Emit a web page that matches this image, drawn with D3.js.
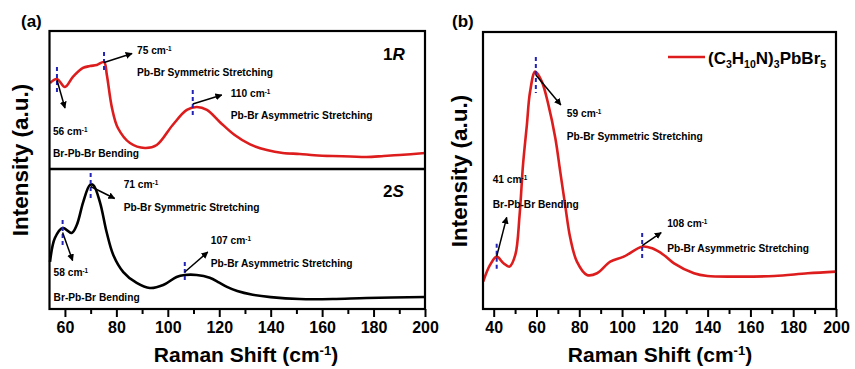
<!DOCTYPE html>
<html>
<head>
<meta charset="utf-8">
<script src="https://cdn.jsdelivr.net/npm/d3@7"></script>
<style>
  body { margin: 0; background: #fff; }
  svg text { font-family: 'Liberation Sans', Arial, sans-serif; font-weight: bold; }
</style>
</head>
<body>
<div id="chart"></div>
<script>
// Raman spectra (x in cm-1, intensity in arbitrary units 0-100)
const shift1R = [54.2, 56.9, 60.0, 63.1, 67.0, 69.7, 72.4, 75.2, 76.3, 78.3, 80.6, 85.3, 91.1, 95.7, 101.9, 107.4, 111.3, 115.2, 120.2, 126.0, 132, 138.5, 144.7, 151.3, 157, 164.1, 171, 177.3, 184, 190.1, 200]
const int1R = [62.3, 65.2, 59.4, 66.7, 73.2, 74.6, 75.4, 77.5, 68.1, 44.2, 29.7, 18.8, 15.2, 17.4, 31.9, 42.8, 44.9, 42.8, 34.1, 24.6, 17.8, 13.8, 11.6, 10.9, 10.0, 9.4, 9.1, 8.7, 9.4, 10.1, 11.6]

const shift2S = [54.2, 56.1, 59.1, 62.6, 64.6, 67.1, 69.7, 71.0, 73.6, 76.2, 78.8, 82.7, 87.9, 93.0, 98.2, 103.4, 106.6, 111.2, 116.3, 120, 123, 127, 133, 140, 151.3, 164.1, 177.3, 200]
const int2S = [33.6, 50.7, 57.9, 54.3, 60.0, 76.4, 88.6, 88.6, 76.4, 55.0, 38.6, 26.4, 18.6, 15.0, 17.1, 22.9, 24.3, 24.3, 22.3, 18.8, 15.8, 12.8, 10.2, 8.5, 7.1, 7.1, 7.9, 8.6]

const shiftB = [35.1, 38.3, 41.4, 44.6, 47.4, 50.1, 52.1, 53.7, 55.5, 57.0, 59.4, 62.5, 65.6, 68.8, 71.1, 73.4, 75.8, 78.9, 83.6, 88.3, 94.5, 100.8, 109.4, 114.1, 119.5, 124.3, 133.6, 139.9, 155.5, 171.1, 186.8, 200]
const intB = [9.9, 15.9, 18.9, 16.5, 15.3, 19.5, 33.9, 52.0, 66.4, 78.4, 85.7, 82.1, 73.6, 61.7, 49.6, 37.5, 25.6, 17.1, 12.3, 12.9, 17.1, 18.9, 22.5, 21.9, 19.5, 16.5, 12.9, 11.9, 11.7, 11.9, 12.9, 13.5]

// peak annotations: marker position (cm-1, intensity), label and assignment
const peakShift1R = [56.9, 75.2, 109.7]
const peakInt1R = [64.5, 77.2, 47.1]
const peakLabel1R = ['56', '75', '110']
const peakMode1R = ['Br-Pb-Br Bending', 'Pb-Br Symmetric Stretching', 'Pb-Br Asymmetric Stretching']

const peakShift2S = [59.1, 70.0, 106.6]
const peakInt2S = [54.6, 87.5, 26.4]
const peakLabel2S = ['58', '71', '107']
const peakMode2S = ['Br-Pb-Br Bending', 'Pb-Br Symmetric Stretching', 'Pb-Br Asymmetric Stretching']

const peakShiftB = [41.4, 59.7, 109.4]
const peakIntB = [19.0, 84.5, 22.9]
const peakLabelB = ['41', '59', '108']
const peakModeB = ['Br-Pb-Br Bending', 'Pb-Br Symmetric Stretching', 'Pb-Br Asymmetric Stretching']

const ticksA = [60, 80, 100, 120, 140, 160, 180, 200]
const minorA = [70, 90, 110, 130, 150, 170, 190]
const ticksB = [40, 60, 80, 100, 120, 140, 160, 180, 200]
const minorB = [50, 70, 90, 110, 130, 150, 170, 190]

// layout of the annotation pieces, in px relative to marker centre
// [marker half length, arrow dx, arrow dy, label dx, label dy, mode dy]
const layout1R = [[13, 8, 28, -4, 55, 77], [10.5, 28, -9, 33, -8.5, 13.5], [14, 29, -9, 38, -7, 15]]
const layout2S = [[12.5, 10, 28, -9, 43.5, 68.5], [13.5, 24, 12, 33, 1.5, 24.5], [10, 23, -20, 26, -28, -5]]
const layoutB = [[12.5, 10, -39, -4, -73.5, -48.5], [18, 25, 30, 31, 42, 65], [12.5, 19, -13, 25, -18.5, 6.5]]

const RED = '#dd1d1d'
const BLUE = '#2323b8'

const svg = d3.select('#chart').append('svg')
  .attr('width', 855)
  .attr('height', 369)

svg.append('defs').append('marker')
  .attr('id', 'arrow')
  .attr('viewBox', '0 0 10 10')
  .attr('refX', 9)
  .attr('refY', 5)
  .attr('markerWidth', 7)
  .attr('markerHeight', 7)
  .attr('markerUnits', 'userSpaceOnUse')
  .attr('orient', 'auto')
  .append('path')
  .attr('d', 'M0,0 L10,5 L0,10 Z')
  .attr('fill', '#000')

// Scales
const xA = d3.scaleLinear().domain([54, 200]).range([49.5, 425])
const yTop = d3.scaleLinear().domain([0, 100]).range([169, 31])
const yBot = d3.scaleLinear().domain([0, 100]).range([309, 169])
const xB = d3.scaleLinear().domain([35, 200]).range([483, 836])
const yB = d3.scaleLinear().domain([0, 100]).range([309, 32])

/**
 * Writes "NN cm-1" with a superscript into a text selection
 */
function cmText (sel, value) {
  sel.append('tspan').text(value + ' cm')
  sel.append('tspan').attr('dy', '-0.45em').attr('font-size', '0.62em').text('-1')
}

function drawSpectrum (xs, ys, xScale, yScale, color) {
  const pts = xs.map((d, i) => [d, ys[i]])
  svg.append('path')
    .datum(pts)
    .attr('d', d3.line()
      .x(d => xScale(d[0]))
      .y(d => yScale(d[1]))
      .curve(d3.curveCatmullRom.alpha(0.5)))
    .attr('fill', 'none')
    .attr('stroke', color)
    .attr('stroke-width', 2.6)
    .attr('stroke-linejoin', 'round')
}

function drawPeaks (shifts, ints, labels, modes, lay, xScale, yScale) {
  shifts.forEach((s, i) => {
    const cx = xScale(s)
    const cy = yScale(ints[i])
    const [h, adx, ady, ldx, ldy, mdy] = lay[i]
    svg.append('line')
      .attr('x1', cx).attr('x2', cx)
      .attr('y1', cy - h).attr('y2', cy + h)
      .attr('stroke', BLUE)
      .attr('stroke-width', 2)
      .attr('stroke-dasharray', '4,3')
    svg.append('line')
      .attr('x1', cx).attr('y1', cy)
      .attr('x2', cx + adx).attr('y2', cy + ady)
      .attr('stroke', '#000')
      .attr('stroke-width', 1.5)
      .attr('marker-end', 'url(#arrow)')
    const t = svg.append('text')
      .attr('x', cx + ldx).attr('y', cy + ldy)
      .attr('font-size', 10.2)
    cmText(t, labels[i])
    svg.append('text')
      .attr('x', cx + ldx).attr('y', cy + mdy)
      .attr('font-size', 10.2)
      .text(modes[i])
  })
}

function drawAxis (xScale, major, minor, y) {
  svg.append('g')
    .attr('transform', `translate(0,${y})`)
    .call(d3.axisBottom(xScale).tickValues(major).tickSize(8).tickPadding(5))
    .call(g => g.select('.domain').remove())
    .call(g => g.selectAll('line').attr('stroke-width', 2))
    .call(g => g.selectAll('text').attr('font-size', 16).attr('fill', '#000')
      .attr('font-family', "'Liberation Sans', Arial, sans-serif").attr('font-weight', 'bold'))
  svg.append('g')
    .attr('transform', `translate(0,${y})`)
    .call(d3.axisBottom(xScale).tickValues(minor).tickSize(5).tickFormat(''))
    .call(g => g.select('.domain').remove())
    .call(g => g.selectAll('line').attr('stroke-width', 2))
}

function xTitle (x) {
  const t = svg.append('text')
    .attr('x', x).attr('y', 362)
    .attr('text-anchor', 'middle')
    .attr('font-size', 21)
  t.append('tspan').text('Raman Shift (cm')
  t.append('tspan').attr('dy', '-0.5em').attr('font-size', '0.62em').text('-1')
  t.append('tspan').attr('dy', '0.3em').text(')')
}

function yTitle (x, y) {
  svg.append('text')
    .attr('transform', `translate(${x},${y}) rotate(-90)`)
    .attr('text-anchor', 'middle')
    .attr('font-size', 22.5)
    .text('Intensity (a.u.)')
}

// ---- Panel (a)
drawSpectrum(shift1R, int1R, xA, yTop, RED)
drawSpectrum(shift2S, int2S, xA, yBot, '#000')
drawPeaks(peakShift1R, peakInt1R, peakLabel1R, peakMode1R, layout1R, xA, yTop)
drawPeaks(peakShift2S, peakInt2S, peakLabel2S, peakMode2S, layout2S, xA, yBot)
drawAxis(xA, ticksA, minorA, 309)

svg.append('rect')
  .attr('x', xA.range()[0]).attr('y', yTop.range()[1])
  .attr('width', xA.range()[1] - xA.range()[0])
  .attr('height', yBot.range()[0] - yTop.range()[1])
  .attr('fill', 'none').attr('stroke', '#000').attr('stroke-width', 2.2)
svg.append('line')
  .attr('x1', xA.range()[0]).attr('x2', xA.range()[1])
  .attr('y1', yTop.range()[0]).attr('y2', yTop.range()[0])
  .attr('stroke', '#000').attr('stroke-width', 2.5)

// sample labels 1R / 2S
const s1 = svg.append('text').attr('x', 383).attr('y', 60).attr('font-size', 17)
s1.append('tspan').text('1')
s1.append('tspan').attr('font-style', 'italic').text('R')
const s2 = svg.append('text').attr('x', 383).attr('y', 197).attr('font-size', 17)
s2.append('tspan').text('2')
s2.append('tspan').attr('font-style', 'italic').text('S')

xTitle(246)
yTitle(28, 160)
svg.append('text').attr('x', 21).attr('y', 27).attr('font-size', 17).text('(a)')

// ---- Panel (b)
drawSpectrum(shiftB, intB, xB, yB, RED)
drawPeaks(peakShiftB, peakIntB, peakLabelB, peakModeB, layoutB, xB, yB)
drawAxis(xB, ticksB, minorB, 309)
svg.append('rect')
  .attr('x', xB.range()[0]).attr('y', yB.range()[1])
  .attr('width', xB.range()[1] - xB.range()[0])
  .attr('height', yB.range()[0] - yB.range()[1])
  .attr('fill', 'none').attr('stroke', '#000').attr('stroke-width', 2.2)

// legend
svg.append('line')
  .attr('x1', 668).attr('x2', 705).attr('y1', 57).attr('y2', 57)
  .attr('stroke', RED).attr('stroke-width', 2.6)
const lg = svg.append('text').attr('x', 708).attr('y', 64).attr('font-size', 17)
const formula = [['(C', false], ['3', true], ['H', false], ['10', true], ['N)', false], ['3', true], ['PbBr', false], ['5', true]]
formula.forEach(([txt, sub], i) => {
  const prevSub = i > 0 && formula[i - 1][1]
  const ts = lg.append('tspan').text(txt)
  if (sub) ts.attr('font-size', '0.62em').attr('dy', '0.35em')
  else if (prevSub) ts.attr('dy', '-0.22em')
})

xTitle(660)
yTitle(467, 171)
svg.append('text').attr('x', 452).attr('y', 27).attr('font-size', 17).text('(b)')
</script>
</body>
</html>
